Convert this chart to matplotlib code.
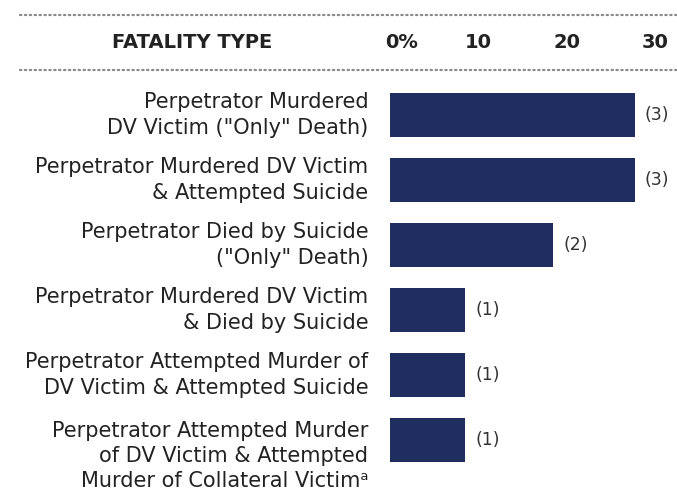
import matplotlib
matplotlib.use("Agg")
import matplotlib.pyplot as plt
from matplotlib.lines import Line2D

plt.rcParams['font.family'] = ['DejaVu Sans']

# datos
categorias = [
    'Perpetrator Murdered\nDV Victim ("Only" Death)',
    'Perpetrator Murdered DV Victim\n& Attempted Suicide',
    'Perpetrator Died by Suicide\n("Only" Death)',
    'Perpetrator Murdered DV Victim\n& Died by Suicide',
    'Perpetrator Attempted Murder of\nDV Victim & Attempted Suicide',
    'Perpetrator Attempted Murder\nof DV Victim & Attempted\nMurder of Collateral Victim\u1d43',
]
casos = [3, 3, 2, 1, 1, 1]
porcentajes = [27.3, 27.3, 18.2, 8.4, 8.4, 8.4]
ticks = [0, 10, 20, 30]
etiquetas_ticks = ['0%', '10', '20', '30']

azul = '#1f2d5f'
gris = '#333333'

fig = plt.figure(figsize=(6.77, 4.9), dpi=100)
ax = fig.add_axes([390 / 677, 1 - 472.5 / 490, 269 / 677, 390 / 490])

y = list(range(len(categorias)))
ax.barh(y, porcentajes, height=0.69, color=azul)
for yi, p, c in zip(y, porcentajes, casos):
    ax.text(p + 1.1, yi, f'({c})', va='center', ha='left', fontsize=12.5, color=gris)

# etiquetas de categoria (la de 3 lineas baja un poco, como en el original)
for yi, cat in zip(y, categorias):
    desplaz = 0.25 if cat.count('\n') == 2 else 0.0
    ax.text(-2.4, yi + desplaz, cat, ha='right', va='center', fontsize=15,
            color='#222222', linespacing=1.32, multialignment='right')

ax.set_xlim(0, 30)
ax.set_ylim(len(categorias) - 0.5, -0.5)
ax.set_xticks([])
ax.set_yticks([])
for s in ax.spines.values():
    s.set_visible(False)

# encabezado
y_enc = 1 - 43 / 490
fig.text(192 / 677, y_enc, 'FATALITY TYPE', ha='center', va='center',
         fontsize=14, fontweight='bold', color='#222222')
for t, lab in zip(ticks, etiquetas_ticks):
    x_fig = (390 + t * 8.85) / 677
    if t == 0:
        fig.text(x_fig - 5 / 677, y_enc, lab, ha='left', va='center',
                 fontsize=14, fontweight='bold', color='#222222')
    else:
        fig.text(x_fig, y_enc, lab, ha='center', va='center',
                 fontsize=14, fontweight='bold', color='#222222')

# lineas punteadas
for yy in [15, 70]:
    fig.add_artist(Line2D([20 / 677, 1], [1 - yy / 490] * 2, transform=fig.transFigure,
                          color='#8a8a8a', linewidth=1.6, linestyle=(0, (0.6, 1.6)),
                          dash_capstyle='round'))

fig.savefig('out.png', dpi=100)
